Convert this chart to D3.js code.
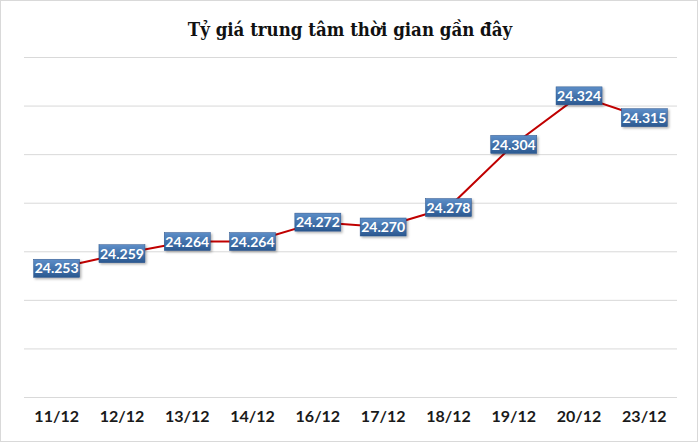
<!DOCTYPE html>
<html>
<head>
<meta charset="utf-8">
<script src="https://cdn.jsdelivr.net/npm/d3@7"></script>
<style>
  body { margin: 0; background: #fff; }
  svg { display: block; }
</style>
</head>
<body>
<svg width="700" height="443"></svg>
<script>
var dates = ["11/12", "12/12", "13/12", "14/12", "16/12", "17/12", "18/12", "19/12", "20/12", "23/12"];
var rates = [24.253, 24.259, 24.264, 24.264, 24.272, 24.270, 24.278, 24.304, 24.324, 24.315];
var yTicks = [24.20, 24.22, 24.24, 24.26, 24.28, 24.30, 24.32, 24.34];

var svg = d3.select("svg"),
    width = +svg.attr("width"),
    height = +svg.attr("height");

var margin = {top: 57, right: 23, bottom: 46, left: 24};

var x = d3.scaleBand()
    .domain(dates)
    .range([margin.left, width - margin.right]);

var y = d3.scaleLinear()
    .domain([24.20, 24.34])
    .range([height - margin.bottom, margin.top]);

// outer frame
svg.append("rect")
    .attr("x", 0.5).attr("y", 0.5)
    .attr("width", width - 3).attr("height", height - 2)
    .attr("fill", "#fff")
    .attr("stroke", "#d9d9d9");

var defs = svg.append("defs");
var grad = defs.append("linearGradient")
    .attr("id", "boxGrad")
    .attr("x1", 0).attr("y1", 0).attr("x2", 0).attr("y2", 1);
grad.append("stop").attr("offset", "0%").attr("stop-color", "#5d8ec8");
grad.append("stop").attr("offset", "100%").attr("stop-color", "#2a5890");

var shadow = defs.append("filter").attr("id", "shadow")
    .attr("x", "-20%").attr("y", "-20%").attr("width", "150%").attr("height", "160%");
shadow.append("feDropShadow")
    .attr("dx", 1.5).attr("dy", 1.5).attr("stdDeviation", 1)
    .attr("flood-color", "#000").attr("flood-opacity", 0.3);

// gridlines
svg.append("g")
    .attr("transform", "translate(" + margin.left + ",0)")
    .call(d3.axisLeft(y).tickValues(yTicks).tickSize(-(width - margin.left - margin.right)).tickFormat(""))
    .call(g => g.select(".domain").remove())
    .call(g => g.selectAll(".tick line").attr("stroke", "#d9d9d9").attr("stroke-width", 1));

// x axis labels
svg.append("g")
    .attr("transform", "translate(0," + (height - margin.bottom) + ")")
    .call(d3.axisBottom(x).tickSize(0).tickPadding(14))
    .call(g => g.select(".domain").remove())
    .call(g => g.selectAll(".tick text")
        .attr("font-family", "Lato, 'Open Sans', sans-serif")
        .attr("font-weight", "bold")
        .attr("font-size", "16px")
        .attr("fill", "#1a1a1a"));

// title
svg.append("text")
    .attr("x", width / 2)
    .attr("y", 36)
    .attr("text-anchor", "middle")
    .attr("font-family", "'DejaVu Serif Condensed', 'DejaVu Serif', serif")
    .attr("font-stretch", "condensed")
    .attr("font-weight", "bold")
    .attr("font-size", "18.5px")
    .attr("fill", "#111")
    .text("Tỷ giá trung tâm thời gian gần đây");

var line = d3.line()
    .x((d, i) => x(dates[i]) + x.bandwidth() / 2)
    .y(d => y(d));

svg.append("path")
    .datum(rates)
    .attr("fill", "none")
    .attr("stroke", "#c00000")
    .attr("stroke-width", 2)
    .attr("d", line);

var fmt = d => d.toFixed(3);

var labels = svg.append("g")
    .selectAll("g")
    .data(rates)
    .enter()
    .append("g")
    .attr("transform", (d, i) => "translate(" + (x(dates[i]) + x.bandwidth() / 2) + "," + y(d) + ")");

labels.append("rect")
    .attr("x", -23).attr("y", -9)
    .attr("width", 46).attr("height", 18)
    .attr("fill", "url(#boxGrad)")
    .attr("stroke", "#2a5389")
    .attr("stroke-width", 0.5)
    .attr("filter", "url(#shadow)");

labels.append("text")
    .attr("text-anchor", "middle")
    .attr("dy", "0.37em")
    .attr("font-family", "Lato, 'Open Sans', sans-serif")
    .attr("font-weight", "bold")
    .attr("font-size", "14px")
    .attr("fill", "#fff")
    .text(fmt);
</script>
</body>
</html>
